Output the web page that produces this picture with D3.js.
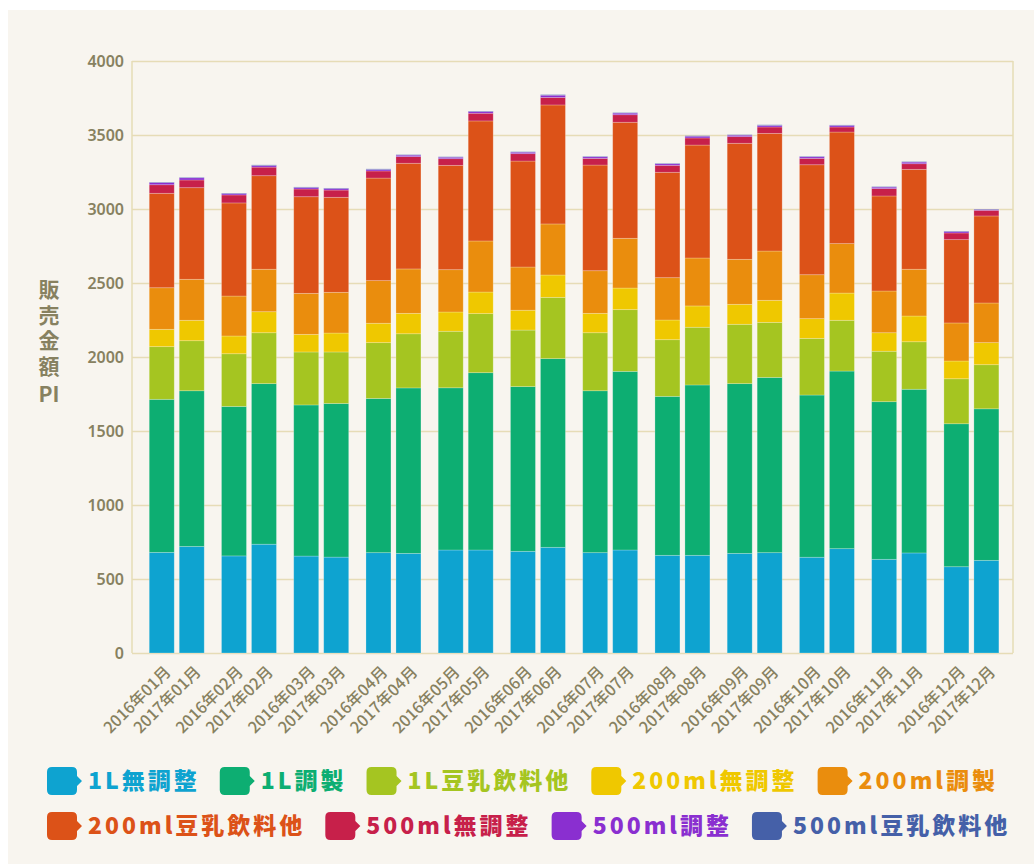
<!DOCTYPE html>
<html>
<head>
<meta charset="utf-8">
<script src="https://cdn.jsdelivr.net/npm/d3@7/dist/d3.min.js"></script>
<style>
  html, body { margin: 0; padding: 0; background: #ffffff; }
  svg { display: block; }
</style>
</head>
<body>
<svg id="chart" width="1034" height="864"></svg>
<script>
// Month labels, one bar per year per month
const categories = [
  "2016年01月","2017年01月","2016年02月","2017年02月","2016年03月","2017年03月",
  "2016年04月","2017年04月","2016年05月","2017年05月","2016年06月","2017年06月",
  "2016年07月","2017年07月","2016年08月","2017年08月","2016年09月","2017年09月",
  "2016年10月","2017年10月","2016年11月","2017年11月","2016年12月","2017年12月"
];
const months = ["01","02","03","04","05","06","07","08","09","10","11","12"];
const years = ["2016","2017"];

// Sales amount PI per product type
const seriesNames = [
  "1L無調整","1L調製","1L豆乳飲料他","200ml無調整","200ml調製",
  "200ml豆乳飲料他","500ml無調整","500ml調整","500ml豆乳飲料他"
];
const oneLPlain   = [680,720,656,735,655,648,678,673,696,696,687,714,678,696,660,660,673,678,647,705,633,676,583,626];
const oneLMixed   = [1034,1052,1010,1085,1021,1038,1042,1118,1096,1198,1113,1275,1094,1207,1074,1151,1147,1184,1096,1200,1065,1106,966,1024];
const oneLDrink   = [356,338,356,344,358,348,377,366,382,399,382,414,392,417,383,390,401,372,383,343,341,321,304,298];
const ml200Plain  = [117,138,120,142,119,128,131,138,130,146,134,151,131,146,133,144,135,149,133,184,125,174,120,149];
const ml200Mixed  = [281,277,270,287,277,275,288,300,286,345,292,345,288,336,286,324,304,333,297,334,282,316,257,268];
const ml200Drink  = [638,619,629,632,653,642,693,714,705,811,716,804,714,784,712,763,784,795,743,754,642,675,563,588];
const ml500Plain  = [58,52,54,58,52,49,48,45,45,52,50,51,45,51,47,48,45,43,43,34,50,38,45,38];
const ml500Mixed  = [15,15,10,11,11,11,10,10,10,12,10,15,11,11,11,12,10,11,11,11,10,11,10,6];
const ml500Drink  = [3,3,3,4,3,3,4,3,3,3,3,4,3,3,3,3,3,4,3,3,3,3,3,3];

const yTicks = [0,500,1000,1500,2000,2500,3000,3500,4000];
const yTitleMain = "販売金額";
const yTitleUnit = "PI";

const seriesValues = [oneLPlain, oneLMixed, oneLDrink, ml200Plain, ml200Mixed,
                      ml200Drink, ml500Plain, ml500Mixed, ml500Drink];
const colors = ["#0ea3d0","#0dae72","#a5c521","#efc800","#ea8d0d",
                "#dc5218","#c7204a","#8a2fd0","#4560a8"];

const svg = d3.select("#chart");
const W = 1034, H = 864;
const plot = { left: 132, right: 1013, top: 61, bottom: 653 };
const axisColor = "#878160";
const gridColor = "#e6dcb6";

// panel background
svg.append("rect").attr("x", 8).attr("y", 10).attr("width", W - 8).attr("height", H - 10)
  .attr("fill", "#f8f5ef");

// rows for stacking
const rows = categories.map((c, i) => {
  const r = { key: c, month: months[Math.floor(i / 2)], year: years[i % 2] };
  seriesNames.forEach((s, k) => { r[s] = seriesValues[k][i]; });
  return r;
});
const stacked = d3.stack().keys(seriesNames)(rows);

const y = d3.scaleLinear().domain([0, 4000]).range([plot.bottom, plot.top]);
const xMonth = d3.scaleBand().domain(months).range([plot.left, plot.right])
  .paddingInner(0.239).paddingOuter(0.217).align(0.55);
const xYear = d3.scaleBand().domain(years).range([0, xMonth.bandwidth()])
  .paddingInner(1 / 6).paddingOuter(0);
const barX = d => xMonth(d.month) + xYear(d.year);

// grid lines
const yAxis = d3.axisLeft(y).tickValues(yTicks).tickSize(-(plot.right - plot.left)).tickPadding(8)
  .tickFormat(d3.format("d"));
const gy = svg.append("g").attr("transform", `translate(${plot.left},0)`).call(yAxis);
gy.select(".domain").remove();
gy.selectAll(".tick line").attr("stroke", gridColor).attr("stroke-width", 1.5);
gy.selectAll(".tick text")
  .attr("fill", axisColor).attr("font-family", "'Noto Sans', sans-serif")
  .attr("font-size", 16).attr("font-weight", 600);

// frame sides
svg.append("line").attr("x1", plot.left).attr("x2", plot.left).attr("y1", plot.top).attr("y2", plot.bottom)
  .attr("stroke", gridColor).attr("stroke-width", 1.5);
svg.append("line").attr("x1", plot.right).attr("x2", plot.right).attr("y1", plot.top).attr("y2", plot.bottom)
  .attr("stroke", gridColor).attr("stroke-width", 1.5);

// stacked bars
const layers = svg.append("g").selectAll("g").data(stacked).join("g")
  .attr("fill", (d, i) => colors[i]);
layers.selectAll("rect").data(d => d).join("rect")
  .attr("x", d => barX(d.data))
  .attr("width", xYear.bandwidth())
  .attr("y", d => y(d[1]))
  .attr("height", d => Math.max(0, y(d[0]) - y(d[1])))
  .attr("stroke", "rgba(255,255,255,0.28)")
  .attr("stroke-width", 0.8);

// x labels
const xl = svg.append("g");
rows.forEach(r => {
  const cx = barX(r) + xYear.bandwidth() / 2;
  xl.append("text")
    .attr("transform", `translate(${cx + 10},${plot.bottom + 20}) rotate(-45)`)
    .attr("text-anchor", "end")
    .attr("fill", axisColor)
    .attr("font-family", "'Noto Sans CJK JP', sans-serif")
    .attr("font-size", 16)
    .attr("font-weight", 500)
    .text(r.key);
});

// y-axis title: vertical characters, then the unit
svg.append("text")
  .attr("x", 49).attr("y", 279)
  .attr("writing-mode", "vertical-rl")
  .attr("letter-spacing", 4.5)
  .attr("fill", axisColor)
  .attr("font-family", "'Noto Sans CJK JP', sans-serif")
  .attr("font-size", 21).attr("font-weight", 700)
  .text(yTitleMain);
svg.append("text")
  .attr("x", 49).attr("y", 402).attr("text-anchor", "middle")
  .attr("fill", axisColor)
  .attr("font-family", "'Noto Sans CJK JP', sans-serif")
  .attr("font-size", 21).attr("font-weight", 700)
  .text(yTitleUnit);

// legend: two rows of callout-style swatches
const legendRows = [[0,1,2,3,4],[5,6,7,8]];
const rowY = [781, 826];
const legend = svg.append("g");
legendRows.forEach((row, ri) => {
  let x = 47;
  row.forEach(k => {
    const g = legend.append("g").attr("transform", `translate(${x},${rowY[ri]})`);
    g.append("path")
      .attr("d", "M5,-14 H25 Q30,-14 30,-9 V-5 L35,0 L30,5 V9 Q30,14 25,14 H5 Q0,14 0,9 V-9 Q0,-14 5,-14 Z")
      .attr("fill", colors[k]);
    const t = g.append("text").attr("x", 41).attr("y", 0).attr("dy", "0.36em")
      .attr("fill", colors[k])
      .attr("font-family", "'Noto Sans CJK JP', sans-serif")
      .attr("font-size", 23).attr("font-weight", 900)
      .attr("letter-spacing", 3)
      .text(seriesNames[k]);
    const w = t.node().getComputedTextLength();
    x += 41 + w + 20;
  });
});
</script>
</body>
</html>
